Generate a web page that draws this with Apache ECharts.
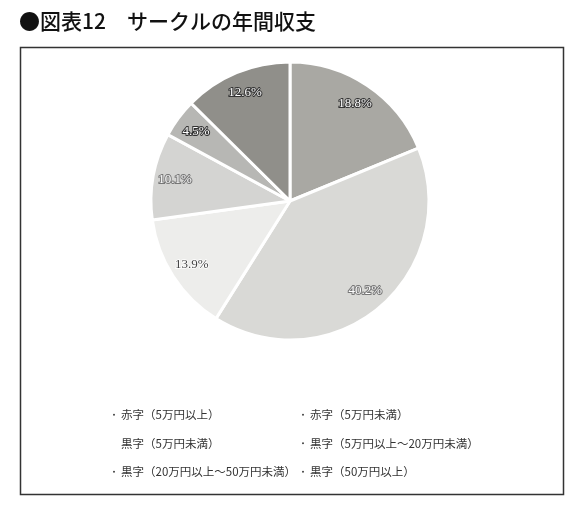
<!DOCTYPE html>
<html>
<head>
<meta charset="utf-8">
<script src="https://cdn.jsdelivr.net/npm/echarts@6/dist/echarts.min.js"></script>
<style>
html,body{margin:0;padding:0;background:#fff;}
#c{width:583px;height:510px;}
</style>
</head>
<body>
<div id="c"></div>
<script>
var categories = [
  '赤字（5万円以上）',
  '赤字（5万円未満）',
  '黒字（5万円未満）',
  '黒字（5万円以上～20万円未満）',
  '黒字（20万円以上～50万円未満）',
  '黒字（50万円以上）'
];
var values = [18.8, 40.2, 13.9, 10.1, 4.5, 12.6];
var sliceColors = ['#a9a8a3', '#d9d9d6', '#ededeb', '#d4d4d2', '#b7b7b4', '#908f8a'];
var labelStyleKind = ['dark', 'mid', 'plain', 'mid', 'dark', 'dark'];

var chart = echarts.init(document.getElementById('c'));
var center = [290, 201];
var R = 139;

var labelStyles = {
  dark: { color: '#ffffff', textBorderColor: '#333333', textBorderWidth: 2 },
  mid: { color: '#ffffff', textBorderColor: '#777777', textBorderWidth: 2 },
  plain: { color: '#444444', textBorderColor: '#ffffff', textBorderWidth: 1.5 }
};

var pieData = categories.map(function (n, i) {
  return { name: n, value: values[i], itemStyle: { color: sliceColors[i] } };
});
var labelData = categories.map(function (n, i) {
  return { name: n, value: values[i], label: labelStyles[labelStyleKind[i]] };
});

function legendCol(idx, left) {
  return {
    orient: 'vertical', left: left, top: 404, itemGap: 17,
    icon: 'circle', itemWidth: 4, itemHeight: 4,
    itemStyle: { color: '#444' },
    selectedMode: false,
    textStyle: { fontFamily: 'Noto Sans CJK JP', fontSize: 11.5, color: '#333' },
    data: idx.map(function (i) {
      var d = { name: categories[i] };
      if (i === 2) d.itemStyle = { opacity: 0 };
      return d;
    })
  };
}

chart.setOption({
  animation: false,
  title: {
    text: '●図表12　サークルの年間収支',
    left: 14, top: 6,
    textStyle: { fontFamily: 'Noto Sans CJK JP', fontSize: 21, fontWeight: 500, color: '#111' }
  },
  legend: [legendCol([0, 2, 4], 106), legendCol([1, 3, 5], 295)],
  graphic: [{
    type: 'rect', left: 18, top: 45,
    shape: { width: 543, height: 447 },
    style: { fill: 'none', stroke: '#333', lineWidth: 1.5 },
    z: -1
  }],
  series: [{
    type: 'pie',
    center: center, radius: [0, R],
    startAngle: 90, clockwise: true,
    silent: true,
    itemStyle: { borderColor: '#ffffff', borderWidth: 3 },
    label: { show: false },
    labelLine: { show: false },
    data: pieData
  }, {
    type: 'pie',
    center: center, radius: [0, R * 1.64],
    startAngle: 90, clockwise: true,
    silent: true,
    legendHoverLink: false,
    itemStyle: { color: 'rgba(0,0,0,0)' },
    label: {
      show: true, position: 'inside',
      formatter: function (p) { return p.value.toFixed(1) + '%'; },
      fontFamily: 'Liberation Serif', fontSize: 13
    },
    labelLine: { show: false },
    data: labelData
  }]
});
</script>
</body>
</html>
